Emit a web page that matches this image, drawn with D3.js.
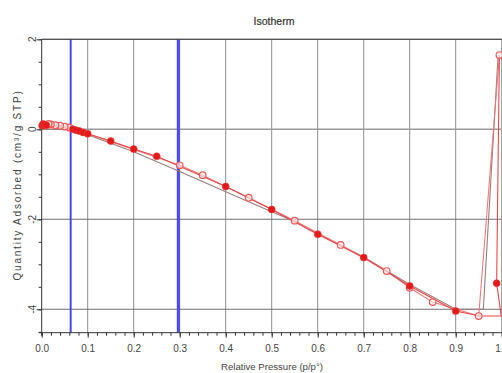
<!DOCTYPE html>
<html>
<head>
<meta charset="utf-8">
<script src="https://cdn.jsdelivr.net/npm/d3@7/dist/d3.min.js"></script>
<style>
  html, body { margin: 0; padding: 0; background: #fff; }
  svg { display: block; font-family: "Liberation Sans", Arial, sans-serif; }
</style>
</head>
<body>
<svg id="chart" width="502" height="373"></svg>
<script>
// Isotherm: relative pressure (p/p°) vs quantity adsorbed.
// Points marked with a third value of 0 are path vertices without a marker.
const adsorption = [
  [0.001, 0.08], [0.003, 0.12], [0.006, 0.10], [0.010, 0.09],
  [0.068, 0.00], [0.075, -0.02], [0.082, -0.04], [0.090, -0.07], [0.100, -0.10],
  [0.15, -0.26], [0.20, -0.44], [0.25, -0.60],
  [0.40, -1.27], [0.50, -1.78], [0.60, -2.33], [0.70, -2.85], [0.80, -3.48], [0.90, -4.04],
  [0.952, -4.15, 0], [0.999, -4.15, 0], [0.989, -3.42], [0.995, 1.65, 0]
];
const desorption = [
  [0.995, 1.65], [0.950, -4.15], [0.85, -3.84], [0.80, -3.52], [0.75, -3.15],
  [0.65, -2.57], [0.55, -2.03], [0.45, -1.52], [0.35, -1.02], [0.30, -0.80],
  [0.060, 0.04], [0.050, 0.06], [0.040, 0.08], [0.030, 0.09], [0.020, 0.11], [0.015, 0.12]
];
const referenceCurve = [
  [0.0, 0.0], [0.06, 0.0], [0.10, -0.12], [0.20, -0.50], [0.30, -0.94], [0.40, -1.39],
  [0.50, -1.83], [0.55, -2.05], [0.60, -2.32], [0.70, -2.84], [0.80, -3.45], [0.90, -4.00],
  [0.96, -4.00], [0.992, 1.60]
];
const markerLines = [0.063, 0.297];
const xTickValues = [0, 0.1, 0.2, 0.3, 0.4, 0.5, 0.6, 0.7, 0.8, 0.9, 1.0];
const yTickValues = [-4, -2, 0, 2];

const svg = d3.select("#chart");
const x = d3.scaleLinear().domain([0, 1]).range([41.7, 501.7]);
const y = d3.scaleLinear().domain([-4.52, 2]).range([332.7, 39.3]);
const [x0, x1] = x.range();
const [yb, yt] = y.range();

// Grid
const grid = svg.append("g");
grid.selectAll("line.v").data(xTickValues.slice(1)).join("line")
  .attr("x1", d => x(d)).attr("x2", d => x(d)).attr("y1", yt).attr("y2", yb)
  .attr("stroke", "#8e8e8e").attr("stroke-width", 1);
grid.selectAll("line.h").data(yTickValues).join("line")
  .attr("x1", x0).attr("x2", x1).attr("y1", d => y(d)).attr("y2", d => y(d))
  .attr("stroke", d => d === 0 ? "#9a9a9a" : "#6f6f6f")
  .attr("stroke-width", d => d === 0 ? 1.6 : 1.1);

// Vertical reference lines
svg.append("g").selectAll("line").data(markerLines).join("line")
  .attr("x1", d => x(d)).attr("x2", d => x(d)).attr("y1", yt).attr("y2", yb)
  .attr("stroke", "#4848f0").attr("stroke-width", (d, i) => i === 0 ? 2 : 3);

// Axes
const xMinor = d3.axisBottom(x).tickValues(d3.range(0, 1.0001, 0.02)).tickSize(3).tickFormat("");
svg.append("g").attr("transform", `translate(0,${yb})`).call(xMinor)
  .call(g => g.select(".domain").remove())
  .selectAll("line").attr("stroke", "#333");
const xAxis = d3.axisBottom(x).tickValues(xTickValues).tickSize(5).tickPadding(7)
  .tickFormat(d3.format(".1f"));
const gx = svg.append("g").attr("transform", `translate(0,${yb})`).call(xAxis);
gx.select(".domain").attr("d", `M${x0 - 3},0H${x1}`).attr("stroke", "#333");
gx.selectAll("line").attr("stroke", "#333");
gx.selectAll("text").attr("fill", "#444").attr("font-size", 10)
  .attr("font-family", "Liberation Sans, Arial, sans-serif");

const yMinor = d3.axisLeft(y).tickValues(d3.range(-4.5, 2.0001, 0.5)).tickSize(3).tickFormat("");
svg.append("g").attr("transform", `translate(${x0},0)`).call(yMinor)
  .call(g => g.select(".domain").remove())
  .selectAll("line").attr("stroke", "#333");
const yAxis = d3.axisLeft(y).tickValues(yTickValues).tickSize(5).tickFormat("");
const gy = svg.append("g").attr("transform", `translate(${x0},0)`).call(yAxis);
gy.select(".domain").attr("d", `M0,${yt}V${yb + 3}`).attr("stroke", "#333");
gy.selectAll("line").attr("stroke", "#333");
svg.append("g").selectAll("text").data(yTickValues).join("text")
  .attr("transform", d => `translate(35.5,${y(d)}) rotate(-90)`)
  .attr("text-anchor", "middle").attr("font-size", 10).attr("fill", "#444")
  .text(d => d);

// Top frame
svg.append("line").attr("x1", x0).attr("x2", x1).attr("y1", yt).attr("y2", yt)
  .attr("stroke", "#444").attr("stroke-width", 1);

// Series
const line = d3.line().x(d => x(d[0])).y(d => y(d[1]));
svg.append("path").datum(referenceCurve).attr("d", line)
  .attr("fill", "none").attr("stroke", "#9c7c7c").attr("stroke-width", 1.1);
svg.append("path").datum(desorption).attr("d", line)
  .attr("fill", "none").attr("stroke", "#f07a7a").attr("stroke-width", 1.1);
svg.append("path").datum(adsorption).attr("d", line)
  .attr("fill", "none").attr("stroke", "#e84848").attr("stroke-width", 1.1);

svg.append("g").selectAll("circle").data(desorption.filter(d => d[2] !== 0)).join("circle")
  .attr("cx", d => x(d[0])).attr("cy", d => y(d[1])).attr("r", 3.3)
  .attr("fill", "rgba(255,235,235,0.7)").attr("stroke", "#ee5a5a").attr("stroke-width", 1.2);
svg.append("g").selectAll("circle").data(adsorption.filter(d => d[2] !== 0)).join("circle")
  .attr("cx", d => x(d[0])).attr("cy", d => y(d[1])).attr("r", 3.5)
  .attr("fill", "#e41a1a").attr("stroke", "#e83a3a").attr("stroke-width", 0.6);

// Titles
svg.append("text").attr("x", 274).attr("y", 25).attr("text-anchor", "middle")
  .attr("font-size", 10.5).attr("fill", "#333").attr("stroke", "#333").attr("stroke-width", 0.2)
  .text("Isotherm");
svg.append("text").attr("x", 272).attr("y", 370).attr("text-anchor", "middle")
  .attr("font-size", 9.6).attr("fill", "#444")
  .text("Relative Pressure (p/p°)");
svg.append("text").attr("transform", "translate(21,185) rotate(-90)").attr("text-anchor", "middle")
  .attr("font-size", 10).attr("fill", "#444").attr("letter-spacing", 1.8)
  .text("Quantity Adsorbed (cm³/g STP)");
</script>
</body>
</html>
